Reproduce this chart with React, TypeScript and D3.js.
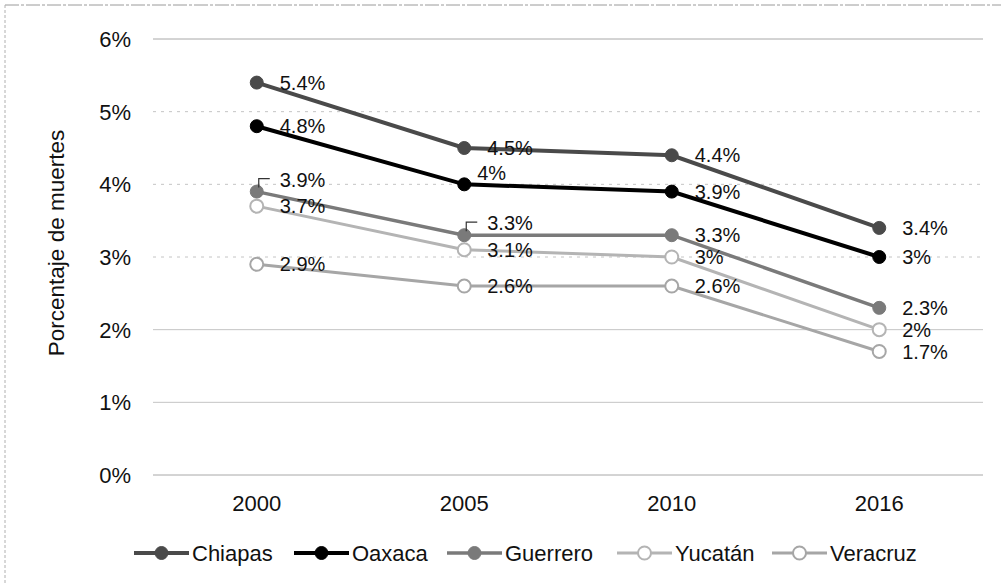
import React from "react";
import * as d3 from "d3";

const years = ["2000", "2005", "2010", "2016"];
const seriesNames = ["Chiapas", "Oaxaca", "Guerrero", "Yucatán", "Veracruz"];
const chiapas = [5.4, 4.5, 4.4, 3.4];
const oaxaca = [4.8, 4.0, 3.9, 3.0];
const guerrero = [3.9, 3.3, 3.3, 2.3];
const yucatan = [3.7, 3.1, 3.0, 2.0];
const veracruz = [2.9, 2.6, 2.6, 1.7];
const yTicks = [0, 1, 2, 3, 4, 5, 6];

const seriesValues = [chiapas, oaxaca, guerrero, yucatan, veracruz];
const colors = ["#4a4a4a", "#000000", "#7a7a7a", "#b4b4b4", "#a6a6a6"];
const widths = [4, 4, 3.5, 3, 3];

const W = 1001;
const H = 585;
const font = "Arial, 'Liberation Sans', sans-serif";

// label adjustments: [seriesIndex, yearIndex] -> {dx, dy, leader}
const labelAdjust: Record<string, { dx: number; dy: number; leader?: boolean }> = {
  "1-1": { dx: 13, dy: -12 },
  "2-0": { dx: 23, dy: -12, leader: true },
  "2-1": { dx: 23, dy: -12, leader: true },
};

const legendX = [134, 294, 447, 617, 772];

export default function App() {
  const x = d3.scalePoint<string>().domain(years).range([153, 983]).padding(0.5);
  const y = d3.scaleLinear().domain([0, 6]).range([475, 39]);
  const line = d3
    .line<number>()
    .x((_, i) => x(years[i]) as number)
    .y((d) => y(d));
  const fmt = (v: number) => `${+v.toFixed(1)}%`;

  return (
    <svg
      width={W}
      height={H}
      style={{ position: "absolute", left: 0, top: 0, background: "#fff" }}
      fontFamily={font}
    >
      <rect x={0} y={0} width={W} height={H} fill="#fff" />
      {/* scan frame */}
      <line x1={5} x2={W} y1={5} y2={5} stroke="#9a9a9a" strokeWidth={1} strokeDasharray="14 2 3 2" />
      <line x1={5} x2={5} y1={5} y2={H} stroke="#b0b0b0" strokeWidth={1} strokeDasharray="3 2" />

      {/* gridlines */}
      {yTicks.map((t) => (
        <g key={t}>
          <line
            x1={153}
            x2={983}
            y1={y(t)}
            y2={y(t)}
            stroke={t === 0 || t === 6 ? "#a8a8a8" : "#c4c4c4"}
            strokeWidth={1}
            strokeDasharray={t >= 3 && t <= 5 ? "3 5" : undefined}
          />
          <text x={131} y={y(t)} dy="0.36em" textAnchor="end" fontSize={22} fill="#111">
            {`${t}%`}
          </text>
        </g>
      ))}

      {/* x tick labels */}
      {years.map((yr) => (
        <text key={yr} x={x(yr)} y={511} textAnchor="middle" fontSize={22} fill="#111">
          {yr}
        </text>
      ))}

      {/* y axis title */}
      <text
        transform={`translate(56,243) rotate(-90)`}
        textAnchor="middle"
        dy="0.36em"
        fontSize={22.5}
        fill="#111"
      >
        Porcentaje de muertes
      </text>

      {/* series lines (draw lighter first) */}
      {seriesValues
        .map((vals, si) => ({ vals, si }))
        .reverse()
        .map(({ vals, si }) => (
          <g key={seriesNames[si]}>
            <path d={line(vals) || ""} fill="none" stroke={colors[si]} strokeWidth={widths[si]} />
            {vals.map((v, i) => (
              <circle
                key={i}
                cx={x(years[i])}
                cy={y(v)}
                r={6.5}
                fill={si >= 3 ? "#fff" : colors[si]}
                stroke={colors[si]}
                strokeWidth={si >= 3 ? 2 : 1}
              />
            ))}
          </g>
        ))}

      {/* data labels */}
      {seriesValues.map((vals, si) =>
        vals.map((v, i) => {
          const adj = labelAdjust[`${si}-${i}`] || { dx: 23, dy: 0 };
          const px = x(years[i]) as number;
          const py = y(v);
          return (
            <g key={`${si}-${i}`}>
              {adj.leader && (
                <path
                  d={`M${px + 2},${py - 4} V${py - 13} H${px + 13}`}
                  fill="none"
                  stroke="#333"
                  strokeWidth={1.2}
                />
              )}
              <text x={px + adj.dx} y={py + adj.dy} dy="0.36em" fontSize={20} fill="#111">
                {fmt(v)}
              </text>
            </g>
          );
        })
      )}

      {/* legend */}
      {seriesNames.map((name, si) => {
        const lx = legendX[si];
        const ly = 553;
        return (
          <g key={name}>
            <line x1={lx} x2={lx + 55} y1={ly} y2={ly} stroke={colors[si]} strokeWidth={widths[si]} />
            <circle
              cx={lx + 27.5}
              cy={ly}
              r={6.5}
              fill={si >= 3 ? "#fff" : colors[si]}
              stroke={colors[si]}
              strokeWidth={si >= 3 ? 2 : 1}
            />
            <text x={lx + 58} y={ly} dy="0.36em" fontSize={22} fill="#111">
              {name}
            </text>
          </g>
        );
      })}
    </svg>
  );
}
